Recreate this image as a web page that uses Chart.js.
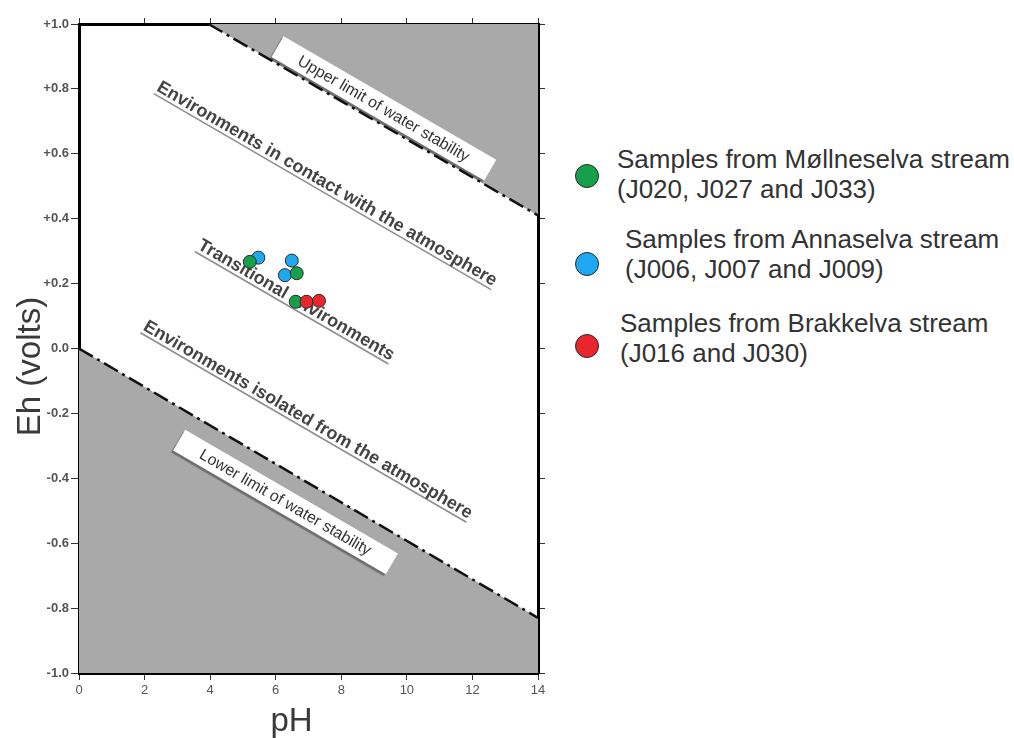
<!DOCTYPE html>
<html>
<head>
<meta charset="utf-8">
<script src="https://cdn.jsdelivr.net/npm/chart.js@4"></script>
<style>
  body { margin: 0; background: #fff; }
  #wrap { position: relative; width: 1014px; height: 738px; overflow: hidden; font-family: "Liberation Sans", Arial, Helvetica, sans-serif; }
  #plot { position: absolute; left: 0; top: 0; }
  .key { position: absolute; color: #333; font-size: 26px; line-height: 30px; white-space: nowrap; }
  .dot { position: absolute; width: 22px; height: 22px; border-radius: 50%; border: 1px solid #2b2b2b; }
</style>
</head>
<body>
<div id="wrap">
  <canvas id="plot" width="560" height="738"></canvas>
</div>
<script>
// =================
// === Eh-pH diagram with stream water samples
// =================

// sample groups
var seriesNames = [
  "Samples from Møllneselva stream",
  "Samples from Annaselva stream",
  "Samples from Brakkelva stream",
];
var seriesCodes = [
  "(J020, J027 and J033)",
  "(J006, J007 and J009)",
  "(J016 and J030)",
];
var seriesColors = ["#16a04c", "#1ea8ef", "#e8262c"];

// measured pH / Eh (volts)
var mollPH = [5.21, 6.64, 6.61];
var mollEh = [0.267, 0.232, 0.144];
var annaPH = [5.47, 6.49, 6.28];
var annaEh = [0.280, 0.271, 0.226];
var brakPH = [6.94, 7.32];
var brakEh = [0.144, 0.147];

// water stability limits
var upperPH = [3.95, 14];
var upperEh = [1.0, 0.41];
var lowerPH = [0, 14];
var lowerEh = [0.0, -0.83];

// axis ticks
var phTicks = [0, 2, 4, 6, 8, 10, 12, 14];
var ehTicks = [-1.0, -0.8, -0.6, -0.4, -0.2, 0.0, 0.2, 0.4, 0.6, 0.8, 1.0];

// text written across the diagram
var zoneLabels = [
  { text: "Environments in contact with the atmosphere", ph: 7.56, eh: 0.507 },
  { text: "Transitional environments", ph: 6.62, eh: 0.149 },
  { text: "Environments isolated from the atmosphere", ph: 6.98, eh: -0.22 },
];
var limitLabels = [
  { text: "Upper limit of water stability", ph: 9.3, eh: 0.74 },
  { text: "Lower limit of water stability", ph: 6.3, eh: -0.473 },
];

function toPoints(xs, ys) {
  return xs.map(function (x, i) { return { x: x, y: ys[i] }; });
}

var FONT = '"Liberation Sans", Arial, Helvetica, sans-serif';
Chart.defaults.font.family = FONT;

var diagramText = {
  id: "diagramText",
  beforeDatasetsDraw: function (chart) {
    var ctx = chart.ctx;
    var sx = chart.scales.x, sy = chart.scales.y;
    var dx = sx.getPixelForValue(upperPH[1]) - sx.getPixelForValue(upperPH[0]);
    var dy = sy.getPixelForValue(upperEh[1]) - sy.getPixelForValue(upperEh[0]);
    var angle = Math.atan2(dy, dx);

    zoneLabels.forEach(function (l) {
      ctx.save();
      ctx.translate(sx.getPixelForValue(l.ph), sy.getPixelForValue(l.eh));
      ctx.rotate(angle);
      ctx.font = "bold 18px " + FONT;
      ctx.textAlign = "center";
      ctx.textBaseline = "middle";
      var w = ctx.measureText(l.text).width;
      ctx.fillStyle = "#8e8e8e";
      ctx.fillRect(-w / 2, 8, w, 1.6);
      ctx.fillStyle = "#444";
      ctx.fillText(l.text, 0, 0);
      ctx.restore();
    });

    limitLabels.forEach(function (l) {
      ctx.save();
      ctx.translate(sx.getPixelForValue(l.ph), sy.getPixelForValue(l.eh));
      ctx.rotate(angle);
      ctx.shadowColor = "rgba(0,0,0,0.35)";
      ctx.shadowOffsetX = -2;
      ctx.shadowOffsetY = 2;
      ctx.shadowBlur = 1;
      ctx.fillStyle = "#fff";
      ctx.fillRect(-123, -12, 246, 24);
      ctx.shadowColor = "transparent";
      ctx.font = "16px " + FONT;
      ctx.textAlign = "center";
      ctx.textBaseline = "middle";
      ctx.fillStyle = "#333";
      ctx.fillText(l.text, 0, 1);
      ctx.restore();
    });
  },
  afterDraw: function (chart) {
    var ctx = chart.ctx;
    var a = chart.chartArea;
    ctx.save();
    ctx.fillStyle = "#3a3a3a";
    ctx.font = "33px " + FONT;
    ctx.textAlign = "center";
    ctx.textBaseline = "alphabetic";
    ctx.fillText("pH", (a.left + a.right) / 2 - 17, chart.height - 7);
    ctx.translate(40, (a.top + a.bottom) / 2 + 18);
    ctx.rotate(-Math.PI / 2);
    ctx.fillText("Eh (volts)", 0, 0);
    ctx.restore();
  },
};

function frameGrid(len) {
  return { drawOnChartArea: false, drawTicks: true, tickLength: len, color: "#333", lineWidth: 1 };
}
var frameBorder = { display: true, color: "#000", width: 3 };

var chPlot = document.getElementById("plot").getContext("2d");

var myChartEhPh = new Chart(chPlot, {
  type: "scatter",
  plugins: [diagramText],
  options: {
    responsive: false,
    animation: false,
    layout: { padding: 0 },
    plugins: {
      legend: { display: false },
      tooltip: { enabled: false },
      filler: { propagate: false, drawTime: "beforeDatasetsDraw" },
    },
    scales: {
      x: {
        type: "linear",
        position: "bottom",
        min: 0,
        max: 14,
        afterBuildTicks: function (s) { s.ticks = phTicks.map(function (v) { return { value: v }; }); },
        ticks: { color: "#555", font: { size: 13 }, padding: 3 },
        grid: frameGrid(7),
        border: frameBorder,
        afterFit: function (s) { s.height = 65; },
      },
      x2: {
        type: "linear",
        position: "top",
        min: 0,
        max: 14,
        afterBuildTicks: function (s) { s.ticks = phTicks.map(function (v) { return { value: v }; }); },
        ticks: { display: false },
        grid: frameGrid(6),
        border: frameBorder,
        afterFit: function (s) { s.height = 24; },
      },
      y: {
        type: "linear",
        position: "left",
        min: -1,
        max: 1,
        afterBuildTicks: function (s) { s.ticks = ehTicks.map(function (v) { return { value: v }; }); },
        ticks: {
          color: "#555",
          font: { size: 13, weight: "bold" },
          padding: 2,
          callback: function (v) {
            if (Math.abs(v) < 1e-9) return "0.0";
            return (v > 0 ? "+" : "") + v.toFixed(1);
          },
        },
        grid: frameGrid(8),
        border: frameBorder,
        afterFit: function (s) { s.width = 79; },
      },
      y2: {
        type: "linear",
        position: "right",
        min: -1,
        max: 1,
        afterBuildTicks: function (s) { s.ticks = ehTicks.map(function (v) { return { value: v }; }); },
        ticks: { display: false },
        grid: frameGrid(7),
        border: frameBorder,
        afterFit: function (s) { s.width = 22; },
      },
    },
  },
  data: {
    datasets: [
      {
        label: seriesNames[0],
        data: toPoints(mollPH, mollEh),
        backgroundColor: seriesColors[0],
        borderColor: "#2b2b2b",
        borderWidth: 1,
        pointRadius: 6.5,
        order: 2,
      },
      {
        label: seriesNames[1],
        data: toPoints(annaPH, annaEh),
        backgroundColor: seriesColors[1],
        borderColor: "#2b2b2b",
        borderWidth: 1,
        pointRadius: 6.5,
        order: 3,
      },
      {
        label: seriesNames[2],
        data: toPoints(brakPH, brakEh),
        backgroundColor: seriesColors[2],
        borderColor: "#2b2b2b",
        borderWidth: 1,
        pointRadius: 6.5,
        order: 1,
      },
      {
        type: "line",
        label: "Upper limit",
        data: toPoints(upperPH, upperEh),
        borderColor: "#111",
        borderWidth: 2.5,
        borderDash: [16, 5, 3, 5],
        pointRadius: 0,
        fill: "end",
        backgroundColor: "#a9a9a9",
        order: 10,
      },
      {
        type: "line",
        label: "Lower limit",
        data: toPoints(lowerPH, lowerEh),
        borderColor: "#111",
        borderWidth: 2.5,
        borderDash: [16, 5, 3, 5],
        pointRadius: 0,
        fill: "start",
        backgroundColor: "#a9a9a9",
        order: 11,
      },
    ],
  },
});

// legend to the right of the diagram
var legendTops = [144, 224, 308];
var legendTextLeft = [617, 625, 620];
var legendDotTop = [164, 252, 334];
var wrap = document.getElementById("wrap");
seriesNames.forEach(function (name, i) {
  var dot = document.createElement("div");
  dot.className = "dot";
  dot.style.left = "575px";
  dot.style.top = legendDotTop[i] + "px";
  dot.style.background = seriesColors[i];
  wrap.appendChild(dot);

  var key = document.createElement("div");
  key.className = "key";
  key.style.left = legendTextLeft[i] + "px";
  key.style.top = legendTops[i] + "px";
  key.innerHTML = name + "<br>" + seriesCodes[i];
  wrap.appendChild(key);
});
</script>
</body>
</html>
